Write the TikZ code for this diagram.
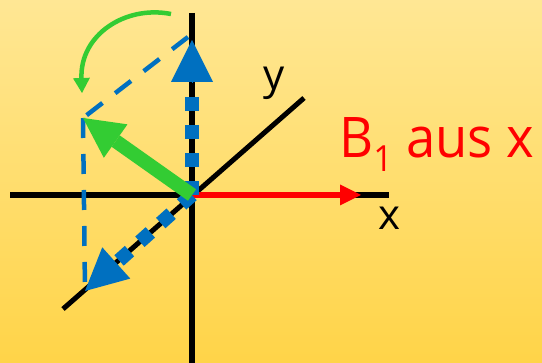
\documentclass[tikz,border=0pt]{standalone}
\usepackage{fontspec}
\setmainfont{Open Sans}
\newfontfamily\capfont[FakeStretch=0.94]{Open Sans}
\usetikzlibrary{arrows.meta,positioning}
\definecolor{bgtop}{RGB}{255,231,148}
\definecolor{bgbot}{RGB}{255,212,72}
\definecolor{vecblue}{RGB}{0,112,192}
\definecolor{vecgreen}{RGB}{51,204,51}
\definecolor{vecred}{RGB}{255,0,0}

\begin{document}
\begin{tikzpicture}[
  x=1pt, y=-1pt,
  axis/.style={draw=black, line width=5.5pt},
  lbl/.style={font=\fontsize{42}{44}\selectfont, inner sep=0pt, anchor=base},
  dots/.style={draw=vecblue, line width=14pt, dash pattern=on 14pt off 14pt},
  proj/.style={draw=vecblue, line width=4.5pt, dash pattern=on 20pt off 16pt},
  bluetip/.style={vecblue, line width=1pt, -{Triangle[length=42pt,width=42pt,line width=0pt]}}
]
\shade[top color=bgtop, bottom color=bgbot] (0,0) rectangle (542,363);
\useasboundingbox (0,0) rectangle (542,363);
% axes
\coordinate (O) at (192,195);
\coordinate (ztop) at (192,13);
\coordinate (zbot) at (192,363);
\coordinate (xl) at (10,195);
\coordinate (xr) at (389,195);
\coordinate (yl) at (63,309);
\coordinate (yr) at (304,98);
\draw[axis] (ztop) -- (zbot);
\draw[axis] (xl) -- (xr);
\draw[axis, line width=5pt] (yl) -- (yr);
\node[lbl] (ylab) at (274,90) {y};
\node[lbl] (xlab) at (390,230) {x};
% image of x
\coordinate (xtip) at (361,195);
\draw[vecred, line width=6pt, -{Triangle[length=21pt,width=21pt,line width=0pt]}] (O) -- (xtip);
% images of y and z
\coordinate (zbase) at (192,83);
\coordinate (ztip) at (192,40);
\coordinate (ybase) at (114,265);
\coordinate (ytip) at (85,291);
\draw[dots] (O) -- (zbase);
\draw[bluetip] (zbase) -- (ztip);
\draw[dots] (O) -- (ybase);
\draw[bluetip] (ybase) -- (ytip);
% projection lines
\coordinate (ptop) at (188,37);
\coordinate (gtip) at (83,118);
\draw[proj] (ptop) -- (gtip);
\draw[proj] (gtip) -- (ytip);
% rotated vector
\draw[vecgreen, line width=14pt, -{Triangle[length=40pt,width=41pt,line width=0pt]}] (O) -- (gtip);
\coordinate (cstart) at (171,14);
\coordinate (ctip) at (82,93);
\draw[vecgreen, line width=4.5pt, -{Triangle[length=15pt,width=17pt,line width=0pt]}]
  (cstart) .. controls (125,5) and (80,35) .. (ctip);
% caption
\node[lbl, text=vecred, font=\capfont\fontsize{56}{58}\selectfont, anchor=base west] (cap) at (339,158)
  {B\raisebox{-14pt}{\fontsize{36}{36}\selectfont 1} aus x};
\end{tikzpicture}
\end{document}
